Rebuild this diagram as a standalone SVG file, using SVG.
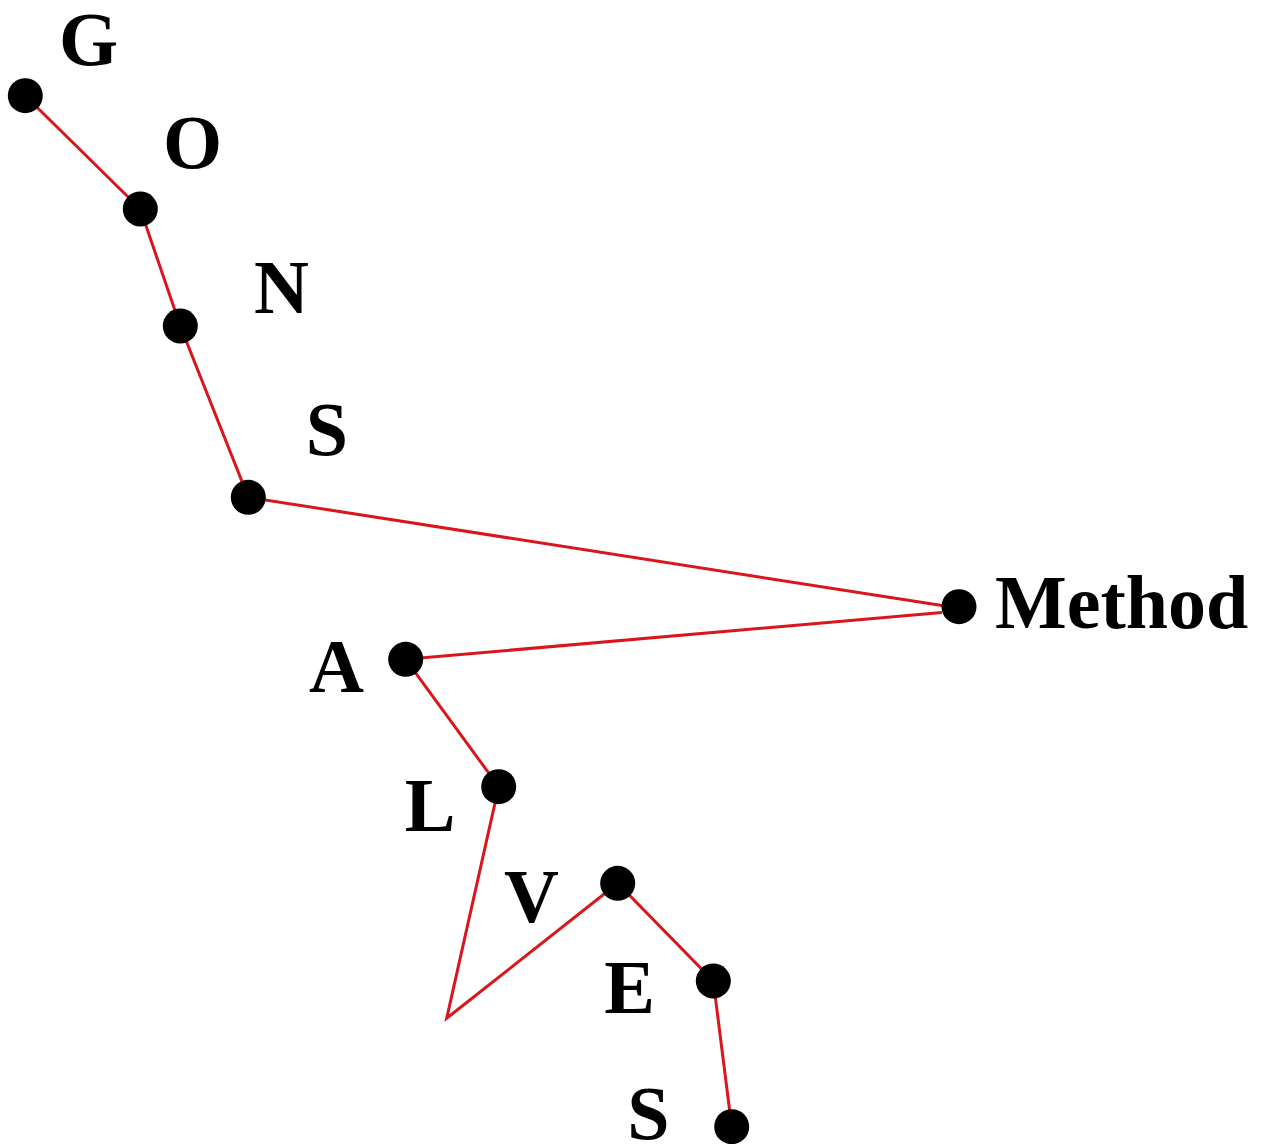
<svg xmlns="http://www.w3.org/2000/svg" width="1265" height="1144" viewBox="0 0 1265 1144">
<style>
.e{fill:none;stroke:#d9161c;stroke-width:3;stroke-linejoin:miter}
.d{fill:#000}
.t{font-family:"Liberation Serif","Times New Roman",serif;font-weight:bold;font-size:76px;fill:#000;text-anchor:middle}
</style>
<rect width="1265" height="1144" fill="#fff"/>
<g id="connectors">
<polyline class="e" points="25.3,95.7 140.3,209 180.3,326 248.3,497.3 942,605.5"/>
<polyline class="e" points="942,612.5 405.7,659.3 498.7,786.7 446.7,1018.3 617.7,883.3 713.3,981 731.7,1126.7"/>
</g>
<g id="G"><circle class="d" cx="25.3" cy="95.7" r="17.5"/><text class="t" x="88.5" y="65">G</text></g>
<g id="O"><circle class="d" cx="140.3" cy="209" r="17.5"/><text class="t" x="192.5" y="168">O</text></g>
<g id="N"><circle class="d" cx="180.3" cy="326" r="17.5"/><text class="t" x="281.5" y="313">N</text></g>
<g id="S1"><circle class="d" cx="248.3" cy="497.3" r="17.5"/><text class="t" x="327" y="455">S</text></g>
<g id="Method"><circle class="d" cx="959" cy="606.7" r="17.5"/><text class="t" x="995" y="628" style="text-anchor:start">Method</text></g>
<g id="A"><circle class="d" cx="405.7" cy="659.3" r="17.5"/><text class="t" x="336.5" y="692">A</text></g>
<g id="L"><circle class="d" cx="498.7" cy="786.7" r="17.5"/><text class="t" x="430" y="830.7">L</text></g>
<g id="V"><circle class="d" cx="617.7" cy="883.3" r="17.5"/><text class="t" x="531.5" y="921.7">V</text></g>
<g id="E"><circle class="d" cx="713.3" cy="981" r="17.5"/><text class="t" x="629.5" y="1013">E</text></g>
<g id="S2"><circle class="d" cx="731.7" cy="1126.7" r="17.5"/><text class="t" x="648.5" y="1139">S</text></g>
</svg>
